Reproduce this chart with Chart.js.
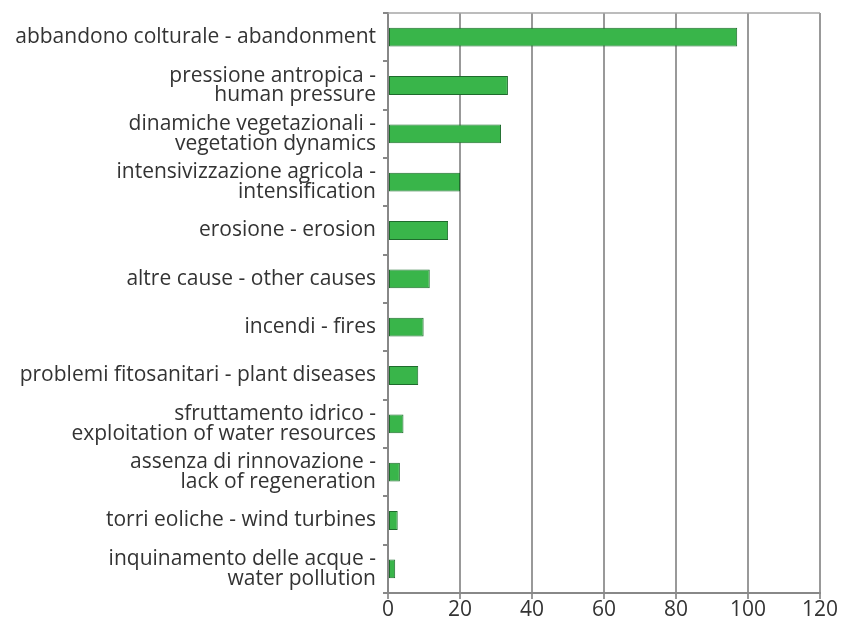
<!DOCTYPE html>
<html>
<head>
<meta charset="utf-8">
<script src="https://cdn.jsdelivr.net/npm/chart.js@4/dist/chart.umd.min.js"></script>
<style>
  html, body { margin: 0; padding: 0; background: #fff; }
  #wrap { width: 841px; height: 625px; }
</style>
</head>
<body>
<div id="wrap"><canvas id="chart"></canvas></div>
<script>
// categories, top to bottom (multi-line labels as arrays)
const causes = [
  "abbandono colturale - abandonment",
  ["pressione antropica -", "human pressure"],
  ["dinamiche vegetazionali -", "vegetation dynamics"],
  ["intensivizzazione agricola -", "intensification"],
  "erosione - erosion",
  "altre cause - other causes",
  "incendi - fires",
  "problemi fitosanitari - plant diseases",
  ["sfruttamento idrico -", "exploitation of water resources"],
  ["assenza di rinnovazione -", "lack of regeneration"],
  "torri eoliche - wind turbines",
  ["inquinamento delle acque -", "water pollution"]
];
const values = [97, 33.3, 31.4, 20, 16.7, 11.6, 9.9, 8.4, 4.3, 3.3, 2.7, 2.0];
const xTicks = [0, 20, 40, 60, 80, 100, 120];

const textColor = '#333';
const font = { family: "'Open Sans', sans-serif", size: 21, weight: 400, lineHeight: 0.95 };

// top border of the plot box
const boxTop = {
  id: 'boxTop',
  afterDraw(chart) {
    const a = chart.chartArea, ctx = chart.ctx;
    ctx.save();
    ctx.strokeStyle = '#a6a6a6';
    ctx.lineWidth = 1.5;
    ctx.beginPath();
    ctx.moveTo(a.left, a.top);
    ctx.lineTo(a.right, a.top);
    ctx.stroke();
    ctx.restore();
  }
};

new Chart(document.getElementById('chart'), {
  type: 'bar',
  data: {
    labels: causes,
    datasets: [{
      data: values,
      backgroundColor: '#39b54a',
      borderColor: '#1e6b2c',
      borderWidth: 1,
      borderSkipped: false,
      barPercentage: 0.39,
      categoryPercentage: 1
    }]
  },
  options: {
    indexAxis: 'y',
    responsive: true,
    maintainAspectRatio: false,
    animation: false,
    layout: { padding: { top: 13, right: 21, left: 0, bottom: 0 } },
    plugins: { legend: { display: false }, tooltip: { enabled: false } },
    scales: {
      x: {
        min: 0, max: 120,
        afterBuildTicks(scale) { scale.ticks = xTicks.map(v => ({ value: v })); },
        afterFit(scale) { scale.height = 32; },
        grid: { color: '#999', lineWidth: 2, tickLength: 6, drawTicks: true },
        border: { color: '#888', width: 2 },
        ticks: { color: textColor, font: font, padding: 1, autoSkip: false, maxRotation: 0 }
      },
      y: {
        afterFit(scale) {
          scale.width = 388;
          scale.paddingTop = 0;
          scale.paddingBottom = 0;
        },
        grid: { offset: true, drawOnChartArea: false, tickLength: 5, color: '#888', lineWidth: 2 },
        border: { color: '#888', width: 2 },
        ticks: { color: textColor, font: font, padding: 7, autoSkip: false }
      }
    }
  },
  plugins: [boxTop]
});
</script>
</body>
</html>
